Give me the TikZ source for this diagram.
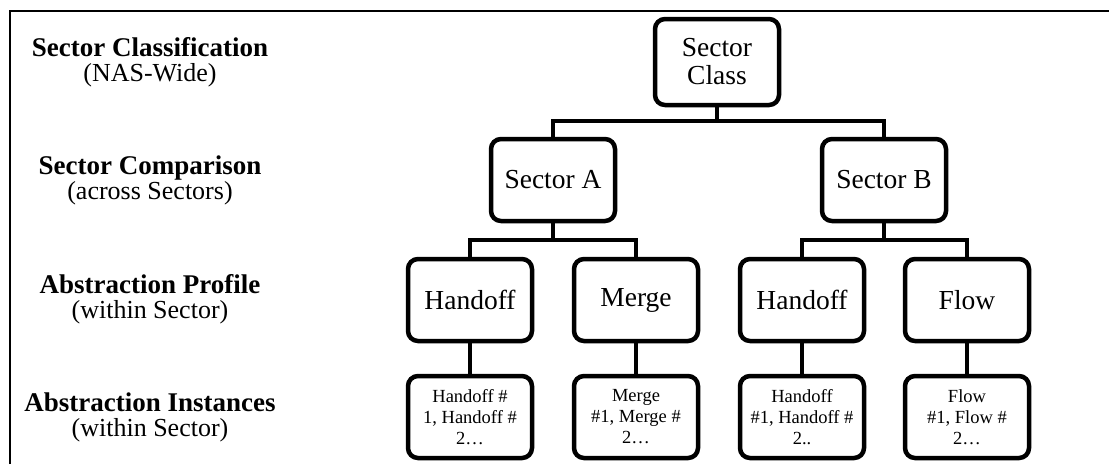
\documentclass[tikz,border=0pt]{standalone}
\usepackage{fontspec}
\setmainfont{Liberation Serif}
\newcommand{\hdtxt}[1]{{\fontsize{27}{25}\selectfont\bfseries #1}}
\begin{document}
\begin{tikzpicture}[x=1pt,y=-1pt,
  box/.style={draw, line width=4.5pt, rounded corners=10pt, minimum width=124pt, minimum height=82pt, align=center, inner sep=2pt, font=\fontsize{27.5}{28}\selectfont},
  inst/.style={box, font=\fontsize{18.5}{21}\selectfont},
  conn/.style={line width=4.5pt, line join=miter},
  lbl/.style={align=center, inner sep=0pt, font=\fontsize{26}{25}\selectfont}
]
\useasboundingbox (0,0) rectangle (1109,464);
\draw[line width=2pt] (10,464) -- (10,11) -- (1109,11);

% left labels
\node[lbl] (l1) at (150,62) {\hdtxt{Sector Classification}\\(NAS-Wide)};
\node[lbl] (l2) at (150,180) {\hdtxt{Sector Comparison}\\(across Sectors)};
\node[lbl] (l3) at (150,299) {\hdtxt{Abstraction Profile}\\(within Sector)};
\node[lbl] (l4) at (150,417) {\hdtxt{Abstraction Instances}\\(within Sector)};

% tree
\node[box, minimum height=86pt] (sc) at (717,62) {Sector\\Class};
\node[box] (sa) at (553,180) {Sector A};
\node[box] (sb) at (884,180) {Sector B};
\node[box] (p1) at (470,300) {Handoff};
\node[box] (p2) at (636,300) {Merge};
\node[box] (p3) at (802,300) {Handoff};
\node[box] (p4) at (967,300) {Flow};
\node[inst] (i1) at (470,417) {Handoff \#\\1, Handoff \#\\2…};
\node[inst] (i2) at (636,417) {Merge\\\#1, Merge \#\\2…};
\node[inst] (i3) at (802,417) {Handoff\\\#1, Handoff \#\\2..};
\node[inst] (i4) at (967,417) {Flow\\\#1, Flow \#\\2…};

\coordinate (j0) at (717,121);
\coordinate (ja) at (553,240);
\coordinate (jb) at (884,240);

\draw[conn] (sc.south) -- (j0);
\draw[conn] (sa.north) -- (sa.north |- j0) -- (sb.north |- j0) -- (sb.north);
\draw[conn] (sa.south) -- (ja);
\draw[conn] (p1.north) -- (p1.north |- ja) -- (p2.north |- ja) -- (p2.north);
\draw[conn] (sb.south) -- (jb);
\draw[conn] (p3.north) -- (p3.north |- jb) -- (p4.north |- jb) -- (p4.north);
\draw[conn] (p1.south) -- (i1.north);
\draw[conn] (p2.south) -- (i2.north);
\draw[conn] (p3.south) -- (i3.north);
\draw[conn] (p4.south) -- (i4.north);
\end{tikzpicture}
\end{document}
